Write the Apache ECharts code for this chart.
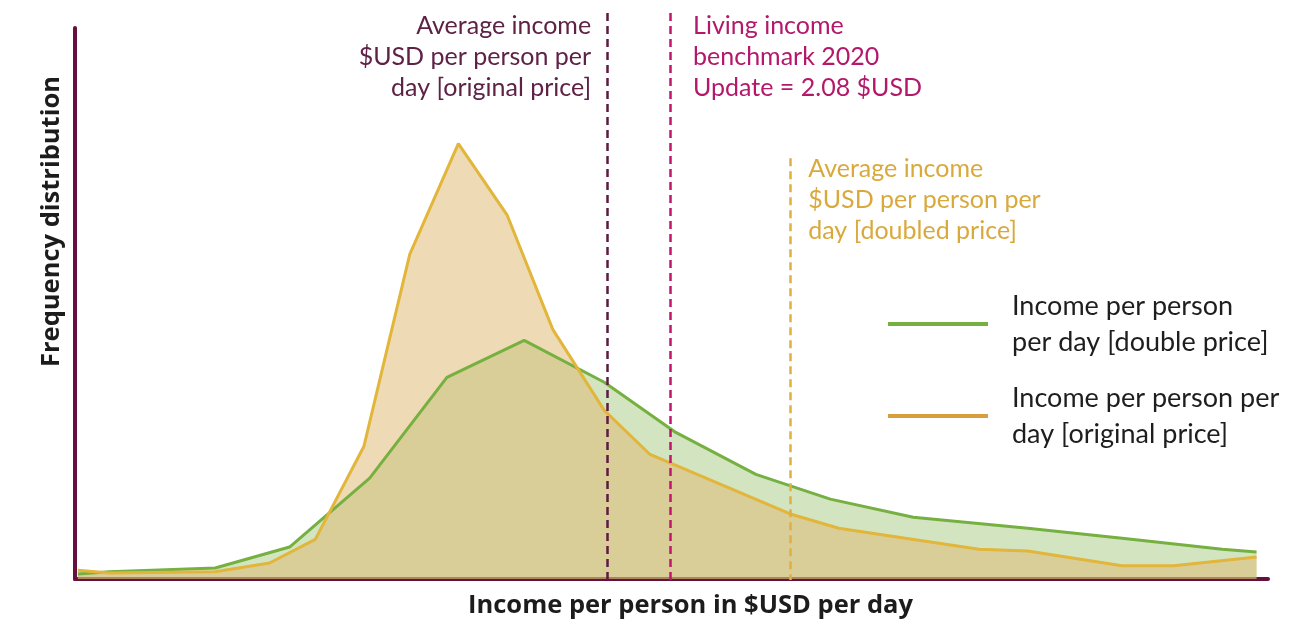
<!DOCTYPE html>
<html>
<head>
<meta charset="utf-8">
<script src="https://cdn.jsdelivr.net/npm/echarts@6/dist/echarts.min.js"></script>
<style>
html, body { margin: 0; padding: 0; background: #fff; }
#chart { width: 1313px; height: 624px; }
</style>
</head>
<body>
<div id="chart"></div>
<script>
// income per person in $USD per day (x) and relative frequency (y)
let doubleX = [0.01, 0.12, 0.49, 0.75, 1.03, 1.30, 1.57, 1.85, 2.10, 2.38, 2.64, 2.93, 3.33, 3.66, 4.01, 4.13];
let doubleY = [0.9, 1.3, 2.0, 5.8, 18.3, 36.6, 43.3, 35.7, 26.6, 19.0, 14.5, 11.2, 9.2, 7.4, 5.4, 4.9];

let originalX = [0.01, 0.12, 0.49, 0.68, 0.84, 1.01, 1.17, 1.34, 1.51, 1.67, 1.85, 2.01, 2.50, 2.67, 2.85, 3.16, 3.33, 3.66, 3.84, 4.13];
let originalY = [1.6, 1.1, 1.3, 2.9, 7.2, 24.1, 58.9, 79.0, 66.1, 45.3, 30.6, 22.6, 11.8, 9.2, 7.8, 5.4, 5.1, 2.4, 2.4, 4.0];

// reference values
let avgOriginal = 1.86;
let livingIncome = 2.08;
let avgDoubled = 2.50;
let avgDoubledTop = 74;

let nameDouble = 'Income per person\nper day [double price]';
let nameOriginal = 'Income per person per\nday [original price]';

let font = 'Lato, "Open Sans", sans-serif';
let titleFont = '"Open Sans", Lato, sans-serif';
let axisColor = '#66103f';

function pairs(xs, ys) {
    let out = [];
    for (let i = 0; i < xs.length; i++) {
        out.push([xs[i], ys[i]]);
    }
    return out;
}

let doubleData = pairs(doubleX, doubleY);
let originalData = pairs(originalX, originalY);

let chart = echarts.init(document.getElementById('chart'));

let option = {
    animation: false,
    textStyle: { fontFamily: font },
    grid: [
        { left: 75, right: 45, top: 28, bottom: 44 },
        { left: 75, right: 45, top: 10, bottom: 44 }
    ],
    xAxis: [
        {
            type: 'value', gridIndex: 0, min: 0, max: 4.17,
            axisLine: { show: true, lineStyle: { color: axisColor, width: 4 } },
            axisTick: { show: false },
            axisLabel: { show: false },
            splitLine: { show: false },
            name: 'Income per person in $USD per day',
            nameLocation: 'middle',
            nameGap: 14,
            nameTextStyle: {
                fontFamily: titleFont, fontSize: 25.5, fontWeight: 'bold', color: '#1c1c1c',
                verticalAlign: 'top', padding: [0, 0, 0, 38]
            }
        },
        { type: 'value', gridIndex: 1, min: 0, max: 4.17, show: false }
    ],
    yAxis: [
        {
            type: 'value', gridIndex: 0, min: 0, max: 100,
            axisLine: { show: true, lineStyle: { color: axisColor, width: 4 } },
            axisTick: { show: false },
            axisLabel: { show: false },
            splitLine: { show: false },
            name: 'Frequency distribution',
            nameLocation: 'middle',
            nameGap: 10,
            nameTextStyle: {
                fontFamily: titleFont, fontSize: 25.5, fontWeight: 'bold', color: '#1c1c1c',
                padding: [0, 0, 0, 164]
            }
        },
        { type: 'value', gridIndex: 1, min: 0, max: 100, show: false }
    ],
    legend: {
        left: 883,
        top: 283,
        orient: 'vertical',
        icon: 'rect',
        itemWidth: 100,
        itemHeight: 4,
        itemGap: 20,
        selectedMode: false,
        textStyle: {
            fontFamily: font, fontSize: 27, color: '#1e1e1e',
            lineHeight: 36, padding: [0, 0, 0, 19]
        },
        data: [
            { name: nameDouble, itemStyle: { color: '#76b041' } },
            { name: nameOriginal, itemStyle: { color: '#d89f3c' } }
        ]
    },
    series: [
        {
            name: 'double area', type: 'line', xAxisIndex: 0, yAxisIndex: 0,
            data: doubleData, showSymbol: false, silent: true, z: 1,
            lineStyle: { width: 0 },
            areaStyle: { color: 'rgba(118,176,65,0.33)', opacity: 1 }
        },
        {
            name: 'original area', type: 'line', xAxisIndex: 0, yAxisIndex: 0,
            data: originalData, showSymbol: false, silent: true, z: 2,
            lineStyle: { width: 0 },
            areaStyle: { color: 'rgba(224,188,119,0.55)', opacity: 1 }
        },
        {
            name: nameDouble, type: 'line', xAxisIndex: 0, yAxisIndex: 0,
            data: doubleData, showSymbol: false, z: 3,
            lineStyle: { color: '#76b041', width: 3 },
            itemStyle: { color: '#76b041' }
        },
        {
            name: nameOriginal, type: 'line', xAxisIndex: 0, yAxisIndex: 0,
            data: originalData, showSymbol: false, z: 3,
            lineStyle: { color: '#e2b53b', width: 3 },
            itemStyle: { color: '#d89f3c' }
        },
        {
            name: 'markers', type: 'line', xAxisIndex: 1, yAxisIndex: 1,
            data: [], showSymbol: false, z: 4,
            markLine: {
                silent: true,
                symbol: ['none', 'none'],
                label: { show: false },
                data: [
                    { xAxis: avgOriginal, lineStyle: { color: '#5e1a42', width: 2.5, type: [8, 5] } },
                    { xAxis: livingIncome, lineStyle: { color: '#c0166e', width: 2.5, type: [8, 5] } },
                    [
                        { coord: [avgDoubled, avgDoubledTop], lineStyle: { color: '#e0b040', width: 2.5, type: [8, 5] } },
                        { coord: [avgDoubled, 0] }
                    ]
                ]
            }
        }
    ]
};

chart.setOption(option);

// annotations placed next to the reference lines
let pOrig = chart.convertToPixel({ gridIndex: 0 }, [avgOriginal, 0]);
let pLiving = chart.convertToPixel({ gridIndex: 0 }, [livingIncome, 0]);
let pDoubled = chart.convertToPixel({ gridIndex: 1 }, [avgDoubled, avgDoubledTop]);

chart.setOption({
    graphic: [
        {
            type: 'text', x: pOrig[0] - 16, y: 10,
            style: {
                text: 'Average income\n$USD per person per\nday [original price]',
                font: '25px ' + font, fill: '#5e2245', textAlign: 'right',
                textVerticalAlign: 'top', lineHeight: 31
            }
        },
        {
            type: 'text', x: pLiving[0] + 23, y: 10,
            style: {
                text: 'Living income\nbenchmark 2020\nUpdate = 2.08 $USD',
                font: '25px ' + font, fill: '#b3186a', textAlign: 'left',
                textVerticalAlign: 'top', lineHeight: 31
            }
        },
        {
            type: 'text', x: pDoubled[0] + 18, y: pDoubled[1] - 5,
            style: {
                text: 'Average income\n$USD per person per\nday [doubled price]',
                font: '25px ' + font, fill: '#d9a93c', textAlign: 'left',
                textVerticalAlign: 'top', lineHeight: 31
            }
        }
    ]
});
</script>
</body>
</html>
